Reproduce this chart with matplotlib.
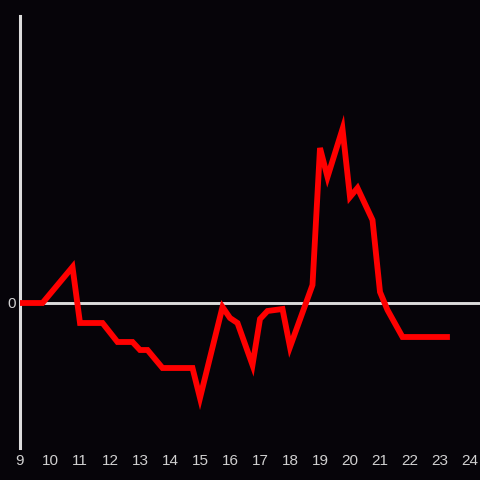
import matplotlib
matplotlib.use("Agg")
import matplotlib.pyplot as plt

hours = [9, 9.75, 10.75, 11, 11.75, 12.25, 12.75, 13, 13.25, 13.75, 14.75, 15,
         15.75, 16, 16.25, 16.75, 17, 17.25, 17.75, 18, 18.75, 19, 19.25, 19.75,
         20, 20.25, 20.75, 21, 21.25, 21.75, 23.33]
values = [0, 0, 3.6, -2.0, -2.0, -3.9, -3.9, -4.7, -4.7, -6.5, -6.5, -9.5,
          -0.4, -1.5, -2.0, -6.2, -1.6, -0.8, -0.6, -4.4, 1.8, 15.5, 12.6, 17.4,
          10.6, 11.5, 8.3, 1.1, -0.7, -3.4, -3.4]
xticks = list(range(9, 25))
yticks = [0]

bg = '#060409'
axc = '#dcdcdc'
plt.rcParams['font.family'] = ['Liberation Sans', 'DejaVu Sans']

fig = plt.figure(figsize=(4.8, 4.8), dpi=100, facecolor=bg)
ax = fig.add_axes([20/480, 32/480, 460/480, 432/480])
ax.set_facecolor(bg)

ax.axhline(0, color=axc, lw=2.1, zorder=1)
ax.plot(hours, values, color='#ff0000', lw=4.2, solid_joinstyle='miter',
        solid_capstyle='butt', zorder=3)

ax.set_xlim(9, 9 + 460/30)
ax.set_ylim(-14.5, 28.7)

for s in ['top', 'right', 'bottom']:
    ax.spines[s].set_visible(False)
ax.spines['left'].set_color(axc)
ax.spines['left'].set_linewidth(2.2)

ax.set_xticks(xticks)
ax.set_xticklabels([str(t) for t in xticks])
ax.set_yticks(yticks)
ax.set_yticklabels(['0'])
ax.tick_params(axis='both', length=0, colors='#d0d0d0', labelsize=11)
ax.tick_params(axis='x', pad=4.5)
ax.tick_params(axis='y', pad=3)

fig.savefig('out.png', dpi=100, facecolor=bg)
